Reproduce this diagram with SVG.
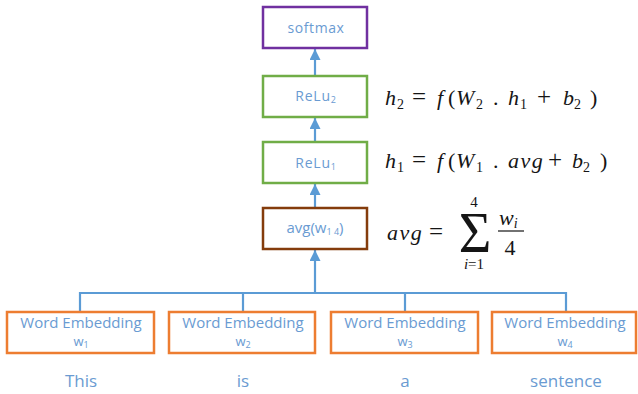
<svg xmlns="http://www.w3.org/2000/svg" width="638" height="394" viewBox="0 0 638 394">
<defs>
<marker id="ah" viewBox="0 0 10 10" refX="10" refY="5" markerWidth="5" markerHeight="5" orient="auto" markerUnits="strokeWidth">
<path d="M0,0 L10,5 L0,10 z" fill="#5B9BD5"/>
</marker>
<style>
.box{fill:#fff;stroke-width:2.5}
.lbl{font-family:"Open Sans","Liberation Sans",sans-serif;fill:#6A9BD2;text-anchor:middle}
.word{font-family:"Open Sans","Liberation Sans",sans-serif;fill:#6A9BD2;text-anchor:middle}
.conn{stroke:#5B9BD5;stroke-width:2.2;fill:none}
.math{font-family:"Liberation Serif",serif;fill:#151515}
.m{font-size:22px}
.it{font-style:italic}
.op{font-size:25px}
.sub{font-size:14px}
.lim{font-size:15px}
</style>
</defs>
<rect width="638" height="394" fill="#fff"/>
<g id="connectors">
<path class="conn" d="M80,312 V293 H566 V312 M243,312 V293 M405,312 V293"/>
<path class="conn" d="M315,293 V250" marker-end="url(#ah)"/>
<path class="conn" d="M315,208 V184" marker-end="url(#ah)"/>
<path class="conn" d="M315,142 V118" marker-end="url(#ah)"/>
<path class="conn" d="M315,75 V49" marker-end="url(#ah)"/>
</g>
<g id="softmax">
<rect class="box" x="263" y="7" width="104" height="41" stroke="#7030A0"/>
<text class="lbl" x="316" y="33" font-size="14" letter-spacing="0.6">softmax</text>
</g>
<g id="relu2">
<rect class="box" x="263" y="76" width="104" height="41" stroke="#70AD47"/>
<text class="lbl" x="316" y="101" font-size="14" letter-spacing="0.8">ReLu<tspan font-size="9" dy="2">2</tspan></text>
</g>
<g id="relu1">
<rect class="box" x="263" y="142" width="104" height="41" stroke="#70AD47"/>
<text class="lbl" x="316" y="168" font-size="14" letter-spacing="0.8">ReLu<tspan font-size="9" dy="2">1</tspan></text>
</g>
<g id="avg">
<rect class="box" x="263" y="208" width="104" height="41" stroke="#843C0C"/>
<text class="lbl" x="315" y="233" font-size="15">avg(w<tspan font-size="9" dy="2">1 4</tspan><tspan dy="-2">)</tspan></text>
</g>
<g id="we1">
<rect class="box" x="7" y="312" width="147" height="41" stroke="#ED7D31"/>
<text class="lbl" x="81" y="328" font-size="15">Word Embedding</text>
<text class="lbl" x="81" y="346" font-size="13">w<tspan font-size="9" dy="2">1</tspan></text>
</g>
<g id="we2">
<rect class="box" x="169" y="312" width="146" height="41" stroke="#ED7D31"/>
<text class="lbl" x="243" y="328" font-size="15">Word Embedding</text>
<text class="lbl" x="243" y="346" font-size="13">w<tspan font-size="9" dy="2">2</tspan></text>
</g>
<g id="we3">
<rect class="box" x="331" y="312" width="147" height="41" stroke="#ED7D31"/>
<text class="lbl" x="405" y="328" font-size="15">Word Embedding</text>
<text class="lbl" x="405" y="346" font-size="13">w<tspan font-size="9" dy="2">3</tspan></text>
</g>
<g id="we4">
<rect class="box" x="492" y="312" width="144" height="41" stroke="#ED7D31"/>
<text class="lbl" x="565" y="328" font-size="15">Word Embedding</text>
<text class="lbl" x="565" y="346" font-size="13">w<tspan font-size="9" dy="2">4</tspan></text>
</g>
<g id="words">
<text class="word" x="81" y="387" font-size="17">This</text>
<text class="word" x="243" y="387" font-size="17">is</text>
<text class="word" x="405" y="387" font-size="17">a</text>
<text class="word" x="566" y="387" font-size="17">sentence</text>
</g>
<g id="eq-h2">
<text class="math m" y="105"><tspan class="it" x="385">h</tspan><tspan class="sub" x="397" dy="4">2</tspan><tspan class="op" x="412" dy="-4">=</tspan><tspan class="it" x="437">f</tspan><tspan x="448">(</tspan><tspan class="it" x="456">W</tspan><tspan class="sub" x="476" dy="4">2</tspan><tspan x="493" dy="-4">.</tspan><tspan class="it" x="508">h</tspan><tspan class="sub" x="520" dy="4">1</tspan><tspan class="op" x="537" dy="-4">+</tspan><tspan class="it" x="563">b</tspan><tspan class="sub" x="574" dy="4">2</tspan><tspan x="590" dy="-4">)</tspan></text>
</g>
<g id="eq-h1">
<text class="math m" y="168"><tspan class="it" x="385">h</tspan><tspan class="sub" x="397" dy="4">1</tspan><tspan class="op" x="412" dy="-4">=</tspan><tspan class="it" x="437">f</tspan><tspan x="448">(</tspan><tspan class="it" x="456">W</tspan><tspan class="sub" x="476" dy="4">1</tspan><tspan x="493" dy="-4">.</tspan><tspan class="it" x="508" letter-spacing="1.5">avg</tspan><tspan class="op" x="548">+</tspan><tspan class="it" x="572">b</tspan><tspan class="sub" x="583" dy="4">2</tspan><tspan x="600" dy="-4">)</tspan></text>
</g>
<g id="eq-avg">
<text class="math m" y="240"><tspan class="it" x="387" letter-spacing="1.5">avg</tspan><tspan class="op" x="429">=</tspan></text>
<text class="math" x="475" y="252" text-anchor="middle" style="font-size:56px">Σ</text>
<text class="math lim" x="474" y="207" text-anchor="middle">4</text>
<text class="math lim" x="474" y="269" text-anchor="middle"><tspan class="it">i</tspan>=1</text>
<text class="math m" x="499" y="225"><tspan class="it">w</tspan><tspan class="it sub" dy="3">i</tspan></text>
<line x1="498" y1="231" x2="524" y2="231" stroke="#151515" stroke-width="1.2"/>
<text class="math m" x="510" y="255" text-anchor="middle">4</text>
</g>
</svg>
